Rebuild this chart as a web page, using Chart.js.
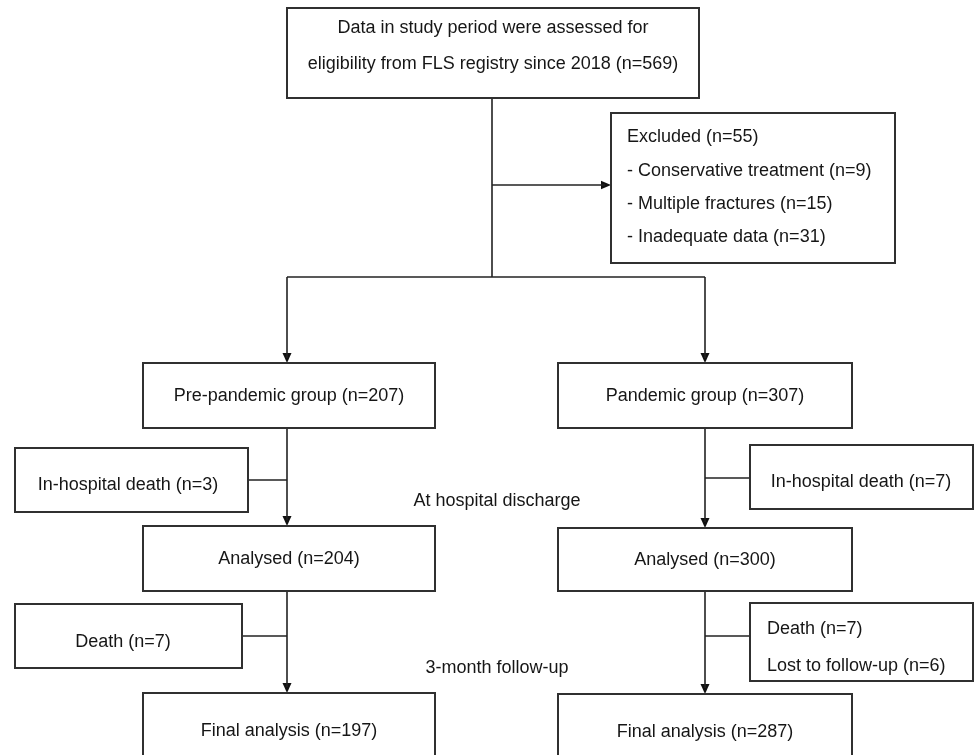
<!DOCTYPE html>
<html>
<head>
<meta charset="utf-8">
<script src="https://cdn.jsdelivr.net/npm/chart.js@4/dist/chart.umd.min.js"></script>
<style>
html,body{margin:0;padding:0;background:#fff;}
#wrap{width:974px;height:755px;}
</style>
</head>
<body>
<div id="wrap"><canvas id="c" width="974" height="755"></canvas></div>
<script>
// ---- data (flow counts) ----
const assessedN = 569;
const assessedYear = 2018;
const excludedN = 55;
const excludedReasons = ['Conservative treatment', 'Multiple fractures', 'Inadequate data'];
const excludedCounts = [9, 15, 31];
const groupNames = ['Pre-pandemic group', 'Pandemic group'];
const groupCounts = [207, 307];
const inHospitalDeaths = [3, 7];
const analysedCounts = [204, 300];
const followDeaths = [7, 7];
const lostToFollowUp = [null, 6];
const finalCounts = [197, 287];
const stageLabels = ['At hospital discharge', '3-month follow-up'];

// ---- layout (diagram coordinate space, 974 x 755) ----
const boxes = [
  [287, 8, 699, 98],     // assessed
  [611, 113, 895, 263],  // excluded
  [143, 363, 435, 428],  // pre-pandemic
  [558, 363, 852, 428],  // pandemic
  [15, 448, 248, 512],   // in-hospital death L
  [750, 445, 973, 509],  // in-hospital death R
  [143, 526, 435, 591],  // analysed L
  [558, 528, 852, 591],  // analysed R
  [15, 604, 242, 668],   // death L
  [750, 603, 973, 681],  // death R
  [143, 693, 435, 775],  // final L
  [558, 694, 852, 775]   // final R
];
const lines = [
  [[492, 98], [492, 277]],
  [[492, 185], [605, 185]],
  [[287, 277], [705, 277]],
  [[287, 277], [287, 358]],
  [[705, 277], [705, 358]],
  [[287, 428], [287, 520]],
  [[248, 480], [287, 480]],
  [[705, 428], [705, 522]],
  [[705, 478], [750, 478]],
  [[287, 591], [287, 687]],
  [[242, 636], [287, 636]],
  [[705, 591], [705, 688]],
  [[705, 636], [750, 636]]
];
// arrow tips: [x, y, direction]
const arrows = [
  [611, 185, 'right'],
  [287, 363, 'down'], [705, 363, 'down'],
  [287, 526, 'down'], [705, 528, 'down'],
  [287, 693, 'down'], [705, 694, 'down']
];

const texts = [
  {x: 493, y: 28, t: 'Data in study period were assessed for', a: 'center'},
  {x: 493, y: 64, t: 'eligibility from FLS registry since ' + assessedYear + ' (n=' + assessedN + ')', a: 'center'},
  {x: 627, y: 137, t: 'Excluded (n=' + excludedN + ')', a: 'left'},
  {x: 627, y: 171, t: '- ' + excludedReasons[0] + ' (n=' + excludedCounts[0] + ')', a: 'left'},
  {x: 627, y: 204, t: '- ' + excludedReasons[1] + ' (n=' + excludedCounts[1] + ')', a: 'left'},
  {x: 627, y: 237, t: '- ' + excludedReasons[2] + ' (n=' + excludedCounts[2] + ')', a: 'left'},
  {x: 289, y: 396, t: groupNames[0] + ' (n=' + groupCounts[0] + ')', a: 'center'},
  {x: 705, y: 396, t: groupNames[1] + ' (n=' + groupCounts[1] + ')', a: 'center'},
  {x: 128, y: 485, t: 'In-hospital death (n=' + inHospitalDeaths[0] + ')', a: 'center'},
  {x: 861, y: 482, t: 'In-hospital death (n=' + inHospitalDeaths[1] + ')', a: 'center'},
  {x: 497, y: 501, t: stageLabels[0], a: 'center'},
  {x: 289, y: 559, t: 'Analysed (n=' + analysedCounts[0] + ')', a: 'center'},
  {x: 705, y: 560, t: 'Analysed (n=' + analysedCounts[1] + ')', a: 'center'},
  {x: 123, y: 642, t: 'Death (n=' + followDeaths[0] + ')', a: 'center'},
  {x: 767, y: 629, t: 'Death (n=' + followDeaths[1] + ')', a: 'left'},
  {x: 767, y: 666, t: 'Lost to follow-up (n=' + lostToFollowUp[1] + ')', a: 'left'},
  {x: 497, y: 668, t: stageLabels[1], a: 'center'},
  {x: 289, y: 731, t: 'Final analysis (n=' + finalCounts[0] + ')', a: 'center'},
  {x: 705, y: 732, t: 'Final analysis (n=' + finalCounts[1] + ')', a: 'center'}
];

// ---- arrow head images ----
function arrowImg(dir) {
  const c = document.createElement('canvas');
  c.width = 10; c.height = 10;
  const g = c.getContext('2d');
  g.fillStyle = '#111';
  g.beginPath();
  if (dir === 'down') { g.moveTo(0.5, 0); g.lineTo(9.5, 0); g.lineTo(5, 10); }
  else { g.moveTo(0, 0.8); g.lineTo(10, 5); g.lineTo(0, 9.2); }
  g.closePath();
  g.fill();
  return c;
}
const downImg = arrowImg('down');
const rightImg = arrowImg('right');

// ---- build datasets ----
const datasets = [];
boxes.forEach(b => {
  const [x1, y1, x2, y2] = b;
  datasets.push({
    type: 'line',
    data: [{x: x1, y: y1}, {x: x2, y: y1}, {x: x2, y: y2}, {x: x1, y: y2}, {x: x1, y: y1}],
    borderColor: '#303030', borderWidth: 2, pointRadius: 0, fill: false, tension: 0,
    borderJoinStyle: 'miter', borderCapStyle: 'square', clip: false
  });
});
lines.forEach(l => {
  datasets.push({
    type: 'line',
    data: l.map(p => ({x: p[0], y: p[1]})),
    borderColor: '#222', borderWidth: 1.6, pointRadius: 0, fill: false, tension: 0, clip: false
  });
});
datasets.push({
  type: 'scatter',
  data: arrows.map(a => a[2] === 'down' ? {x: a[0], y: a[1] - 5} : {x: a[0] - 5, y: a[1]}),
  pointStyle: arrows.map(a => a[2] === 'down' ? downImg : rightImg),
  pointRadius: 5, pointHoverRadius: 5,
  clip: false
});

const textPlugin = {
  id: 'flowText',
  afterDatasetsDraw(chart) {
    const ctx = chart.ctx;
    const xs = chart.scales.x, ys = chart.scales.y;
    ctx.save();
    ctx.fillStyle = '#161616';
    ctx.font = '18px "Liberation Sans", Arial, sans-serif';
    ctx.textBaseline = 'middle';
    texts.forEach(o => {
      ctx.textAlign = o.a;
      ctx.fillText(o.t, xs.getPixelForValue(o.x), ys.getPixelForValue(o.y));
    });
    ctx.restore();
  }
};

new Chart(document.getElementById('c'), {
  type: 'line',
  data: {datasets},
  options: {
    responsive: false,
    devicePixelRatio: 1,
    animation: false,
    events: [],
    layout: {padding: 0, autoPadding: false},
    plugins: {legend: {display: false}, tooltip: {enabled: false}},
    scales: {
      x: {type: 'linear', min: 0, max: 974, display: false},
      y: {type: 'linear', min: 0, max: 755, reverse: true, display: false}
    }
  },
  plugins: [textPlugin]
});
</script>
</body>
</html>
